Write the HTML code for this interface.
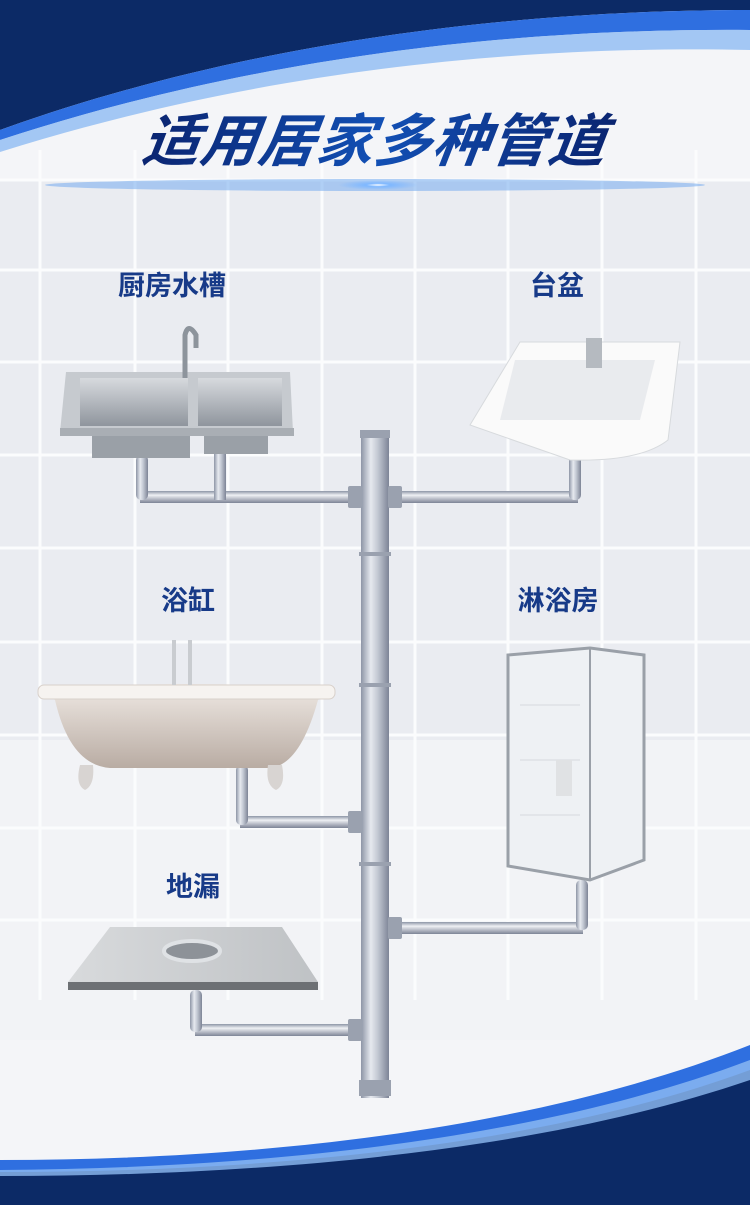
<!DOCTYPE html>
<html><head><meta charset="utf-8"><style>
html,body{margin:0;padding:0;width:750px;height:1205px;overflow:hidden;background:#f3f4f8}
svg{display:block}
text{font-family:"Liberation Sans","Noto Sans CJK SC",sans-serif}
</style></head><body>
<svg width="750" height="1205" viewBox="0 0 750 1205" xmlns="http://www.w3.org/2000/svg">
<defs>
<linearGradient id="pipe" x1="0" x2="1" y1="0" y2="0">
<stop offset="0" stop-color="#8d95a6"/><stop offset="0.35" stop-color="#e6e9ef"/><stop offset="0.6" stop-color="#c3c8d3"/><stop offset="1" stop-color="#7d8496"/></linearGradient>
<linearGradient id="pipeh" x1="0" x2="0" y1="0" y2="1">
<stop offset="0" stop-color="#8d95a6"/><stop offset="0.35" stop-color="#eef0f4"/><stop offset="1" stop-color="#7d8496"/></linearGradient>
<linearGradient id="title" x1="0" x2="1"><stop offset="0" stop-color="#0a2470"/><stop offset="0.5" stop-color="#1250b5"/><stop offset="1" stop-color="#0a2470"/></linearGradient>
<linearGradient id="steel" x1="0" x2="0" y1="0" y2="1"><stop offset="0" stop-color="#d7dade"/><stop offset="1" stop-color="#8f959d"/></linearGradient>
<linearGradient id="tub" x1="0" x2="0" y1="0" y2="1"><stop offset="0" stop-color="#efe9e4"/><stop offset="1" stop-color="#b9aca3"/></linearGradient>
<linearGradient id="marble" x1="0" x2="1"><stop offset="0" stop-color="#d8dadc"/><stop offset="1" stop-color="#bfc2c5"/></linearGradient>
<radialGradient id="glow" cx="0.5" cy="0.5" r="0.5"><stop offset="0" stop-color="#fff"/><stop offset="0.3" stop-color="#7fb8ff"/><stop offset="1" stop-color="#7fb8ff" stop-opacity="0"/></radialGradient>
</defs>
<rect width="750" height="1205" fill="#f4f5f8"/>
<rect x="0" y="180" width="750" height="560" fill="#eaecf1"/>
<rect x="0" y="740" width="750" height="300" fill="#f2f3f6"/>
<g stroke="#fbfcfd" stroke-width="3">
<line x1="40" y1="150" x2="40" y2="1000"/><line x1="135" y1="150" x2="135" y2="1000"/><line x1="228" y1="150" x2="228" y2="1000"/><line x1="322" y1="150" x2="322" y2="1000"/><line x1="415" y1="150" x2="415" y2="1000"/><line x1="508" y1="150" x2="508" y2="1000"/><line x1="602" y1="150" x2="602" y2="1000"/><line x1="696" y1="150" x2="696" y2="1000"/>
<line x1="0" y1="180" x2="750" y2="180"/><line x1="0" y1="270" x2="750" y2="270"/><line x1="0" y1="362" x2="750" y2="362"/><line x1="0" y1="455" x2="750" y2="455"/><line x1="0" y1="548" x2="750" y2="548"/><line x1="0" y1="642" x2="750" y2="642"/><line x1="0" y1="735" x2="750" y2="735"/><line x1="0" y1="828" x2="750" y2="828"/><line x1="0" y1="920" x2="750" y2="920"/>
</g>
<!-- top banner -->
<path d="M0 0 H750 V10 C520 10 250 40 0 130 Z" fill="#0c2a66"/>
<path d="M0 130 C250 40 520 10 750 10 V30 C520 28 260 55 0 140 Z" fill="#2f6fe0"/>
<path d="M0 140 C260 55 520 28 750 30 V50 C520 45 260 70 0 152 Z" fill="#8fbcf2" opacity="0.8"/>
<!-- bottom banner -->
<path d="M0 1205 H750 V1060 C560 1130 300 1165 0 1165 Z" fill="#0c2a66"/>
<path d="M0 1160 C300 1160 560 1120 750 1045 V1070 C560 1140 300 1172 0 1172 Z" fill="#2f6fe0"/>
<path d="M750 1060 C560 1132 300 1168 0 1170 V1176 C300 1176 560 1145 750 1080 Z" fill="#8fbcf2" opacity="0.8"/>
<!-- title -->
<ellipse cx="375" cy="185" rx="330" ry="6" fill="#7fb0f0" opacity="0.6"/>
<ellipse cx="378" cy="185" rx="40" ry="5" fill="url(#glow)"/>
<text x="375" y="161" text-anchor="middle" font-size="57" font-weight="bold" font-style="italic" fill="url(#title)" transform="skewX(-8) translate(20 0)" letter-spacing="1">适用居家多种管道</text>
<!-- labels -->
<g font-size="27" fill="#173a88" text-anchor="middle" font-weight="bold">
<text x="172" y="295">厨房水槽</text><text x="557" y="295">台盆</text>
<text x="188" y="610">浴缸</text><text x="558" y="610">淋浴房</text>
<text x="193" y="896">地漏</text>
</g>
<!-- branch pipes -->
<g fill="url(#pipeh)">
<rect x="140" y="491" width="222" height="12"/>
<rect x="388" y="491" width="190" height="12"/>
<rect x="240" y="816" width="122" height="12"/>
<rect x="388" y="922" width="195" height="12"/>
<rect x="195" y="1024" width="167" height="12"/>
</g>
<g fill="url(#pipe)">
<rect x="136" y="455" width="12" height="45" rx="5"/>
<rect x="214" y="450" width="12" height="50"/>
<rect x="569" y="455" width="12" height="45" rx="5"/>
<rect x="236" y="765" width="12" height="60" rx="5"/>
<rect x="576" y="880" width="12" height="50" rx="5"/>
<rect x="190" y="990" width="12" height="42" rx="5"/>
<rect x="361" y="430" width="28" height="668"/>
</g>
<g fill="#9aa1af">
<rect x="360" y="430" width="30" height="8"/><rect x="359" y="552" width="32" height="4"/><rect x="359" y="683" width="32" height="4"/><rect x="359" y="862" width="32" height="4"/><rect x="359" y="1080" width="32" height="16"/>
<rect x="348" y="486" width="14" height="22" rx="2"/><rect x="388" y="486" width="14" height="22" rx="2"/>
<rect x="348" y="811" width="14" height="22" rx="2"/><rect x="388" y="917" width="14" height="22" rx="2"/><rect x="348" y="1019" width="14" height="22" rx="2"/>
</g>
<!-- kitchen sink -->
<path d="M66 372 H290 L293 432 H60 Z" fill="#c6cacf"/>
<rect x="60" y="428" width="234" height="8" fill="#a9aeb4"/>
<path d="M80 378 H188 V426 H80 Z" fill="url(#steel)"/>
<path d="M198 378 H282 V426 H198 Z" fill="url(#steel)"/>
<path d="M92 436 H190 V458 H92 Z M204 436 H268 V454 H204 Z" fill="#9aa0a7"/>
<path d="M185 378 V335 Q188 322 196 335 V348" stroke="#8d949c" stroke-width="5" fill="none"/>
<!-- basin -->
<path d="M520 342 H680 L668 440 Q640 462 570 460 L470 425 Z" fill="#fafafa" stroke="#d7dadd"/>
<path d="M515 360 H655 L640 420 H500 Z" fill="#e9ebee"/>
<rect x="586" y="338" width="16" height="30" fill="#b5bac0"/>
<!-- bathtub -->
<path d="M38 690 Q190 678 335 690 L318 700 Q300 765 270 768 H110 Q70 765 55 700 Z" fill="url(#tub)"/>
<rect x="38" y="685" width="297" height="14" rx="6" fill="#f6f3f0" stroke="#d8d0ca"/>
<path d="M80 765 q-5 20 5 25 q10 -5 8 -25z M268 765 q-3 20 8 25 q10 -5 6 -25z" fill="#d8d4d2"/>
<rect x="172" y="640" width="4" height="45" fill="#c9ccd0"/><rect x="188" y="640" width="4" height="45" fill="#c9ccd0"/>
<!-- shower -->
<path d="M508 655 L590 648 L644 655 V860 L590 880 L508 866 Z" fill="#eef1f4" stroke="#9aa0a8" stroke-width="3"/>
<path d="M590 648 V880" stroke="#9aa0a8" stroke-width="2"/>
<path d="M520 705 H580 M520 760 H580 M520 815 H580" stroke="#d5d9de"/>
<rect x="556" y="760" width="16" height="36" fill="#e0e2e4"/>
<!-- floor drain -->
<path d="M110 927 H282 L318 982 H68 Z" fill="url(#marble)"/>
<rect x="68" y="982" width="250" height="8" fill="#6d7074"/>
<ellipse cx="192" cy="951" rx="28" ry="10" fill="#8d9298" stroke="#dfe2e5" stroke-width="4"/>
</svg>
</body></html>
